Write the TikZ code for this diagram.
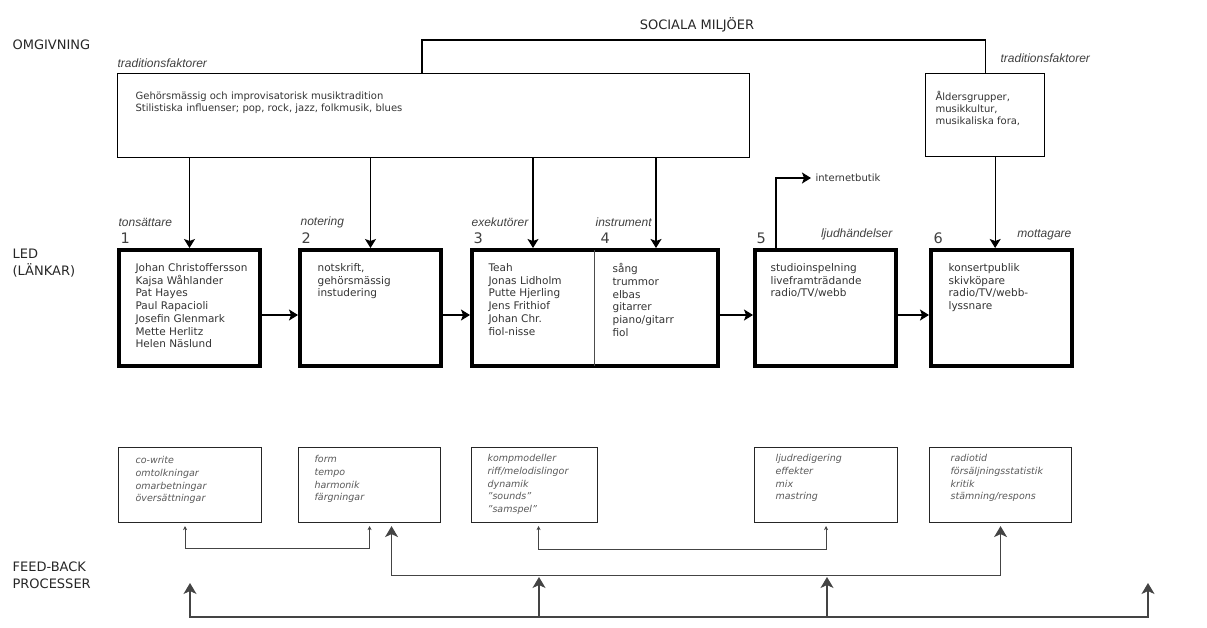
\documentclass[tikz,border=0pt]{standalone}
\usepackage{fontspec}
\setmainfont{DejaVu Sans}
\newfontfamily\labelfont{Liberation Sans}
\usetikzlibrary{arrows.meta}

\definecolor{textgray}{HTML}{333333}
\definecolor{linegray}{HTML}{444444}

\begin{document}
\begin{tikzpicture}[
  x = 1pt, y = -1pt,
  line width = 1.2pt,
  > = {Stealth[length = 9pt, width = 11pt, inset = 2pt]},
  heading/.style = {anchor = west, inner sep = 0, align = left, text = black!85,
    font = \fontsize{13}{17}\selectfont},
  number/.style = {anchor = west, inner sep = 0, text = black!75,
    font = \fontsize{14.5}{14.5}\selectfont},
  role/.style = {anchor = west, inner sep = 0, text = black!75,
    font = \labelfont\itshape\fontsize{12}{12}\selectfont},
  context/.style = {draw, line width = 1.3pt, anchor = north west, inner sep = 0},
  contexttext/.style = {anchor = north west, inner sep = 0, align = left, text = textgray,
    font = \fontsize{10}{11.8}\selectfont},
  link/.style = {draw, line width = 4pt, minimum width = 141pt, minimum height = 116pt,
    anchor = north west, inner sep = 0},
  halflink/.style = {minimum height = 116pt, anchor = north west, inner sep = 0, outer sep = 0},
  linktext/.style = {anchor = north west, inner sep = 0, align = left, text = textgray,
    font = \fontsize{10.5}{12.7}\selectfont},
  feedback/.style = {draw = black!85, line width = 1.1pt, minimum width = 143pt,
    minimum height = 75pt, anchor = north west, inner sep = 0},
  feedbacktext/.style = {anchor = north west, inner sep = 0, align = left, text = black!65,
    font = \itshape\fontsize{9.5}{12.7}\selectfont},
  fbline/.style = {draw = linegray, line width = 1.1pt},
  fbsmall/.style = {fbline, {Stealth[length = 4pt, width = 4pt]}-{Stealth[length = 4pt, width = 4pt]}},
  fbbig/.style = {fbline, > = {Stealth[length = 11pt, width = 13pt, inset = 3pt]}},
  ]

  \useasboundingbox (0, 0) rectangle (1207, 627);

  % rubriker till vanster
  \node at (12, 45) [heading, name = Omgivning] {OMGIVNING};

  \node at (12, 263) [heading, name = Led] {LED\\(LÄNKAR)};

  \node at (12, 575) [heading, name = Processer] {FEED-BACK\\PROCESSER};

  \node at (697, 25) [heading, anchor = center, name = Sociala] {SOCIALA MILJÖER};

  % omgivning
  \node at (117, 73) [context, minimum width = 632pt, minimum height = 84pt, name = Tradition] {};

  \node at ([shift = {(18, 18)}] Tradition.north west) [contexttext, name = TraditionText]
  {Gehörsmässig och improvisatorisk musiktradition\\
   Stilistiska influenser; pop, rock, jazz, folkmusik, blues};

  \node at (117, 63) [role, name = TraditionLeft] {traditionsfaktorer};

  \node at (925, 73) [context, minimum width = 119pt, minimum height = 83pt, name = Publik] {};

  \node at ([shift = {(10, 18)}] Publik.north west) [contexttext, name = PublikText]
  {Åldersgrupper,\\musikkultur,\\musikaliska fora,};

  \node at (1000, 58) [role, name = TraditionRight] {traditionsfaktorer};

  % led (lankar)
  \node at (117, 248) [link, name = Tonsattare] {};

  \node at (298, 248) [link, name = Notering] {};

  \node at (472, 250) [halflink, minimum width = 122pt, name = Exekutorer] {};

  \node at (594, 250) [halflink, minimum width = 124pt, name = Instrument] {};

  \node at (753, 248) [link, name = Ljudhandelser] {};

  \node at (929, 248) [link, name = Mottagare] {};

  \draw [line width = 4pt] (Exekutorer.north west) rectangle (Instrument.south east);

  \draw [line width = 1pt, black!70] (Exekutorer.north east) to (Exekutorer.south east);

  \node at ([shift = {(18, 15)}] Tonsattare.north west) [linktext, name = TonsattareText]
  {Johan Christoffersson\\Kajsa Wåhlander\\Pat Hayes\\Paul Rapacioli\\Josefin Glenmark\\Mette Herlitz\\Helen Näslund};

  \node at ([shift = {(19, 15)}] Notering.north west) [linktext, name = NoteringText]
  {notskrift,\\gehörsmässig\\instudering};

  \node at ([shift = {(16, 13)}] Exekutorer.north west) [linktext, name = ExekutorerText]
  {Teah\\Jonas Lidholm\\Putte Hjerling\\Jens Frithiof\\Johan Chr.\\fiol-nisse};

  \node at ([shift = {(18, 13)}] Instrument.north west) [linktext, name = InstrumentText]
  {sång\\trummor\\elbas\\gitarrer\\piano/gitarr\\fiol};

  \node at ([shift = {(17, 15)}] Ljudhandelser.north west) [linktext, name = LjudhandelserText]
  {studioinspelning\\liveframträdande\\radio/TV/webb};

  \node at ([shift = {(19, 15)}] Mottagare.north west) [linktext, name = MottagareText]
  {konsertpublik\\skivköpare\\radio/TV/webb-\\lyssnare};

  \node at (118, 222) [role, name = RoleOne] {tonsättare};
  \node at (120, 238) [number, name = NumberOne] {1};

  \node at (300, 222) [role, name = RoleTwo] {notering};
  \node at (301, 238) [number, name = NumberTwo] {2};

  \node at (471, 222) [role, name = RoleThree] {exekutörer};
  \node at (473, 238) [number, name = NumberThree] {3};

  \node at (595, 222) [role, name = RoleFour] {instrument};
  \node at (600, 238) [number, name = NumberFour] {4};

  \node at (893, 234) [role, anchor = east, name = RoleFive] {ljudhändelser};
  \node at (756, 238) [number, name = NumberFive] {5};

  \node at (1072, 235) [role, anchor = east, name = RoleSix] {mottagare};
  \node at (933, 238) [number, name = NumberSix] {6};

  \node at (811, 178) [anchor = west, inner sep = 4pt, text = textgray,
    font = \fontsize{10}{11}\selectfont, name = Internetbutik] {internetbutik};

  % pilar
  \coordinate (SocialKnee) at (422, 40);

  \draw (SocialKnee |- Tradition.north) to (SocialKnee) -| (Publik.north);

  \draw [->] (Tradition.south -| Tonsattare.north) to (Tonsattare.north);

  \draw [->] (Tradition.south -| Notering.north) to (Notering.north);

  \draw [->, shorten > = 2pt] (Tradition.south -| Exekutorer.north) to (Exekutorer.north);

  \draw [->, shorten > = 2pt] (Tradition.south -| Instrument.north) to (Instrument.north);

  \draw [->] ([xshift = 10pt] Publik.south) to ([xshift = 10pt] Publik.south |- Mottagare.north);

  \draw [->] ([yshift = -7pt] Tonsattare.east) to ([yshift = -7pt] Notering.west);

  \draw [->, shorten > = 2pt] ([yshift = -7pt] Notering.east) to ([yshift = -7pt] Exekutorer.west);

  \draw [->] ([yshift = -7pt] Instrument.east) to ([yshift = -7pt] Ljudhandelser.west);

  \draw [->] ([yshift = -7pt] Ljudhandelser.east) to ([yshift = -7pt] Mottagare.west);

  \draw [->] ([xshift = 23pt] Ljudhandelser.north west) |- (Internetbutik.west);

  % feed-back
  \node at (118, 447) [feedback, minimum width = 143pt, name = FBTonsattare] {};

  \node at (298, 447) [feedback, minimum width = 142pt, name = FBNotering] {};

  \node at (471, 447) [feedback, minimum width = 126pt, name = FBExekutorer] {};

  \node at (754, 447) [feedback, minimum width = 143pt, name = FBLjud] {};

  \node at (929, 447) [feedback, minimum width = 142pt, name = FBMottagare] {};

  \node at ([shift = {(17, 9)}] FBTonsattare.north west) [feedbacktext, name = FBTonsattareText]
  {co-write\\omtolkningar\\omarbetningar\\översättningar};

  \node at ([shift = {(16, 8)}] FBNotering.north west) [feedbacktext, name = FBNoteringText]
  {form\\tempo\\harmonik\\färgningar};

  \node at ([shift = {(16, 7)}] FBExekutorer.north west) [feedbacktext, name = FBExekutorerText]
  {kompmodeller\\riff/melodislingor\\dynamik\\"sounds"\\"samspel"};

  \node at ([shift = {(21, 7)}] FBLjud.north west) [feedbacktext, name = FBLjudText]
  {ljudredigering\\effekter\\mix\\mastring};

  \node at ([shift = {(21, 7)}] FBMottagare.north west) [feedbacktext, name = FBMottagareText]
  {radiotid\\försäljningsstatistik\\kritik\\stämning/respons};

  \draw [fbsmall] ([xshift = -5pt, yshift = -3pt] FBTonsattare.south) -- ++(0, 22)
    -| ([yshift = -3pt] FBNotering.south);

  \draw [fbsmall] ([xshift = 4pt, yshift = -3pt] FBExekutorer.south) -- ++(0, 23)
    -| ([yshift = -3pt] FBLjud.south);

  \draw [fbbig, <->] ([xshift = 22pt, yshift = -3pt] FBNotering.south) -- ++(0, 49)
    -| ([yshift = -3pt] FBMottagare.south);

  \coordinate (FeedLeft) at (190, 583);
  \coordinate (FeedRight) at (1148, 583);
  \coordinate (RiseA) at (539, 617);
  \coordinate (RiseATop) at (539, 577);
  \coordinate (RiseB) at (827, 617);
  \coordinate (RiseBTop) at (827, 577);

  \draw [fbbig, <->] (FeedLeft) -- ++(0, 34) -| (FeedRight);

  \draw [fbbig, ->] (RiseA) to (RiseATop);

  \draw [fbbig, ->] (RiseB) to (RiseBTop);

\end{tikzpicture}
\end{document}
